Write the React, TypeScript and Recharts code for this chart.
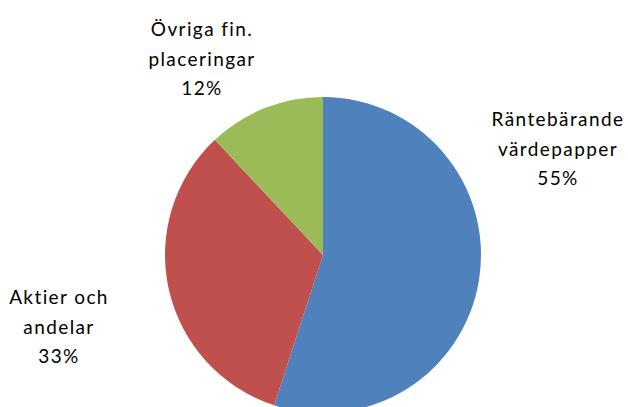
import { PieChart, Pie, Cell } from 'recharts';

const categories = ['Räntebärande värdepapper', 'Aktier och andelar', 'Övriga fin. placeringar'];
const labelLines = [
  ['Räntebärande', 'värdepapper'],
  ['Aktier och', 'andelar'],
  ['Övriga fin.', 'placeringar'],
];
const shares = [55, 33, 12];

const colors = ['#4F81BD', '#C0504D', '#9BBB59'];
// label block centre relative to pie centre (Excel "best fit" placement)
const labelOffsets = [
  { dx: 235, dy: -129 },
  { dx: -264, dy: 49 },
  { dx: -121, dy: -219 },
];

const data = categories.map((name, i) => ({ name, value: shares[i] }));

const renderLabel = (props: any) => {
  const { cx, cy, index, percent } = props;
  const off = labelOffsets[index];
  const x = cx + off.dx;
  const y = cy + off.dy;
  const lines = [...labelLines[index], `${Math.round(percent * 100)}%`];
  return (
    <text
      x={x}
      y={y}
      textAnchor="middle"
      fill="#000"
      fontSize={19}
      fontFamily="Lato, 'Open Sans', sans-serif"
      letterSpacing={1.4}
    >
      {lines.map((l, i) => (
        <tspan key={i} x={x} dy={i === 0 ? 0 : 29.5}>
          {l}
        </tspan>
      ))}
    </text>
  );
};

export default function App() {
  return (
    <div style={{ width: 628, height: 407, background: '#fff' }}>
      <style>{`body { margin: 0; }`}</style>
      <PieChart width={628} height={407}>
        <Pie
          data={data}
          dataKey="value"
          nameKey="name"
          cx={318}
          cy={250}
          outerRadius={158}
          startAngle={90}
          endAngle={-270}
          stroke="none"
          labelLine={false}
          label={renderLabel}
          isAnimationActive={false}
        >
          {data.map((_, i) => (
            <Cell key={i} fill={colors[i]} />
          ))}
        </Pie>
      </PieChart>
    </div>
  );
}
